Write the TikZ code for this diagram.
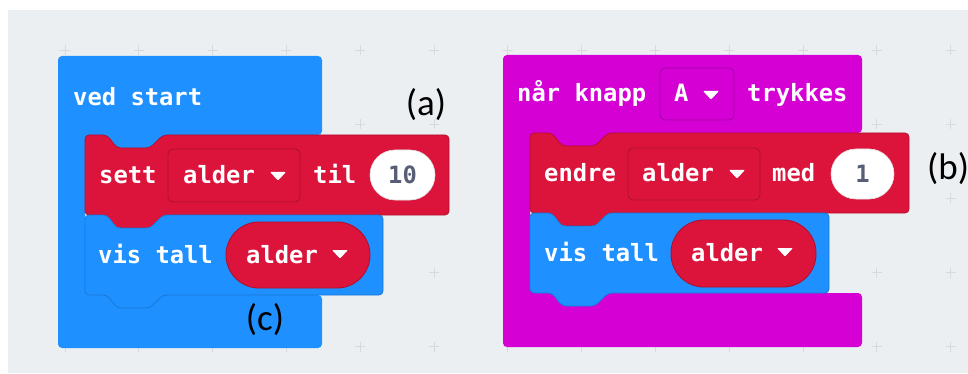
\documentclass[tikz,border=0pt]{standalone}
\usepackage{fontspec}
\newfontfamily\blockfont{DejaVu Sans Mono}
\newfontfamily\labelfont{Carlito}

\definecolor{canvas}{HTML}{ECEFF1}
\definecolor{gridmark}{HTML}{D6DADD}
\definecolor{basicblue}{HTML}{1E90FF}
\definecolor{basicedge}{HTML}{1A78D6}
\definecolor{varred}{HTML}{DC143C}
\definecolor{varedge}{HTML}{B0102F}
\definecolor{inputmag}{HTML}{D400D4}
\definecolor{inputedge}{HTML}{A800A8}
\definecolor{numtext}{HTML}{575E75}

% statement block: top-left (#1,#2), right edge #3, bottom edge #4,
% with a notch on top and a tab below
\newcommand{\stmtpath}[4]{(#1,#2) -- (#1+22,#2) -- (#1+32,#2+13) -- (#1+65,#2+13) -- (#1+78,#2)
  -- (#3,#2) -- (#3,#4) -- (#1+78,#4) -- (#1+65,#4+13) -- (#1+32,#4+13) -- (#1+22,#4) -- (#1,#4) -- cycle}

% C-shaped event block: outer box (#1,#2)-(#3,#6), inner arm edge #4,
% top arm ends at #5, bottom arm starts at #7
\newcommand{\cpath}[7]{(#1,#2) -- (#3,#2) -- (#3,#5) -- (#4+78,#5) -- (#4+65,#5+13) -- (#4+32,#5+13)
  -- (#4+22,#5) -- (#4,#5) -- (#4,#7) -- (#3,#7) -- (#3,#6) -- (#1,#6) -- cycle}

% small dropdown triangle with its left corner at (#1,#2)
\newcommand{\ddtri}[2]{\fill[white, rounded corners=1pt] (#1,#2) -- (#1+16,#2) -- (#1+8,#2+8.5) -- cycle;}

\tikzset{
  blocktext/.style={font=\blockfont\bfseries\fontsize{23.8}{25}\selectfont, text=white, inner sep=0pt, anchor=base west},
  numtext/.style={font=\blockfont\bfseries\fontsize{23.8}{25}\selectfont, text=numtext, inner sep=0pt},
  tag/.style={font=\labelfont\fontsize{37}{40}\selectfont, text=black, inner sep=0pt},
  eventblock/.style={rounded corners=4pt},
  stmtblock/.style={rounded corners=4pt, line width=0.8pt},
  dropbox/.style={rounded corners=5pt, line width=0.9pt},
  plusmark/.style={gridmark, line width=0.9pt}
}

\begin{document}
\begin{tikzpicture}[x=1pt,y=-1pt]
  \useasboundingbox (0,0) rectangle (968,374);
  \begin{scope}
    \clip (0,0) rectangle (968,374);
    % workspace
    \fill[white] (0,0) rectangle (968,374);
    \fill[canvas] (8,10) rectangle (968,373);
    \foreach \i in {0,...,12} {
      \foreach \j in {0,...,4} {
        \draw[plusmark] (65+73.8*\i-5,50+74.2*\j) -- ++(10,0);
        \draw[plusmark] (65+73.8*\i,50+74.2*\j-5) -- ++(0,10);
      }
    }

    % ---------- left program: ved start ----------
    \fill[basicblue, eventblock] \cpath{58}{56}{322}{85}{135}{348}{295};
    \node[blocktext] (vedstart) at (73,106) {ved start};

    \filldraw[fill=varred, draw=varedge, stmtblock] \stmtpath{85}{135}{449}{215};
    \node[blocktext] (sett) at (99,183) {sett};
    \filldraw[fill=varred, draw=varedge, dropbox] (168,149) rectangle (300,202);
    \node[blocktext] (settvar) at (183,183) {alder};
    \ddtri{270}{172}
    \node[blocktext] (til) at (313,183) {til};
    \filldraw[fill=white, draw=black!12, line width=0.6pt, rounded corners=25pt] (370,150) rectangle (435,200);
    \node[numtext] (ten) at (402.5,175) {10};

    \filldraw[fill=basicblue, draw=basicedge, stmtblock] \stmtpath{85}{215}{383}{295};
    % red tab of the block above sits in the notch
    \fill[varred] (107,214.5) -- (117,227) -- (150,227) -- (163,214.5) -- cycle;
    \node[blocktext] (vistallA) at (98,263) {vis tall};
    \filldraw[fill=varred, draw=varedge, line width=0.9pt, rounded corners=33pt] (226,222) rectangle (370,288);
    \node[blocktext] (showvarA) at (246,263) {alder};
    \ddtri{332}{250}

    \node[tag] (taga) at (426,105) {(a)};
    \node[tag] (tagc) at (265,320) {(c)};

    % ---------- right program: når knapp A trykkes ----------
    \fill[inputmag, eventblock] \cpath{503}{55}{862}{530}{133}{347}{293};
    \node[blocktext] (naar) at (517,102) {når knapp};
    \filldraw[fill=inputmag, draw=inputedge, dropbox] (660,68) rectangle (734,120);
    \node[blocktext] (knappA) at (674,102) {A};
    \ddtri{703}{91}
    \node[blocktext] (trykkes) at (747,102) {trykkes};

    \filldraw[fill=varred, draw=varedge, stmtblock] \stmtpath{530}{133}{909}{213};
    \node[blocktext] (endre) at (544,182) {endre};
    \filldraw[fill=varred, draw=varedge, dropbox] (628,148) rectangle (760,200);
    \node[blocktext] (endrevar) at (642,182) {alder};
    \ddtri{729}{170}
    \node[blocktext] (med) at (772,182) {med};
    \filldraw[fill=white, draw=black!12, line width=0.6pt, rounded corners=25pt] (831,149) rectangle (894,199);
    \node[numtext] (one) at (862.5,174) {1};

    \filldraw[fill=basicblue, draw=basicedge, stmtblock] \stmtpath{530}{213}{829}{293};
    \fill[varred] (552,212.5) -- (562,225) -- (595,225) -- (608,212.5) -- cycle;
    \node[blocktext] (vistallB) at (544,261) {vis tall};
    \filldraw[fill=varred, draw=varedge, line width=0.9pt, rounded corners=33pt] (671,220) rectangle (816,287);
    \node[blocktext] (showvarB) at (691,261) {alder};
    \ddtri{777}{248}

    \node[tag, anchor=west] (tagb) at (927,169) {(b)};
  \end{scope}
\end{tikzpicture}
\end{document}
